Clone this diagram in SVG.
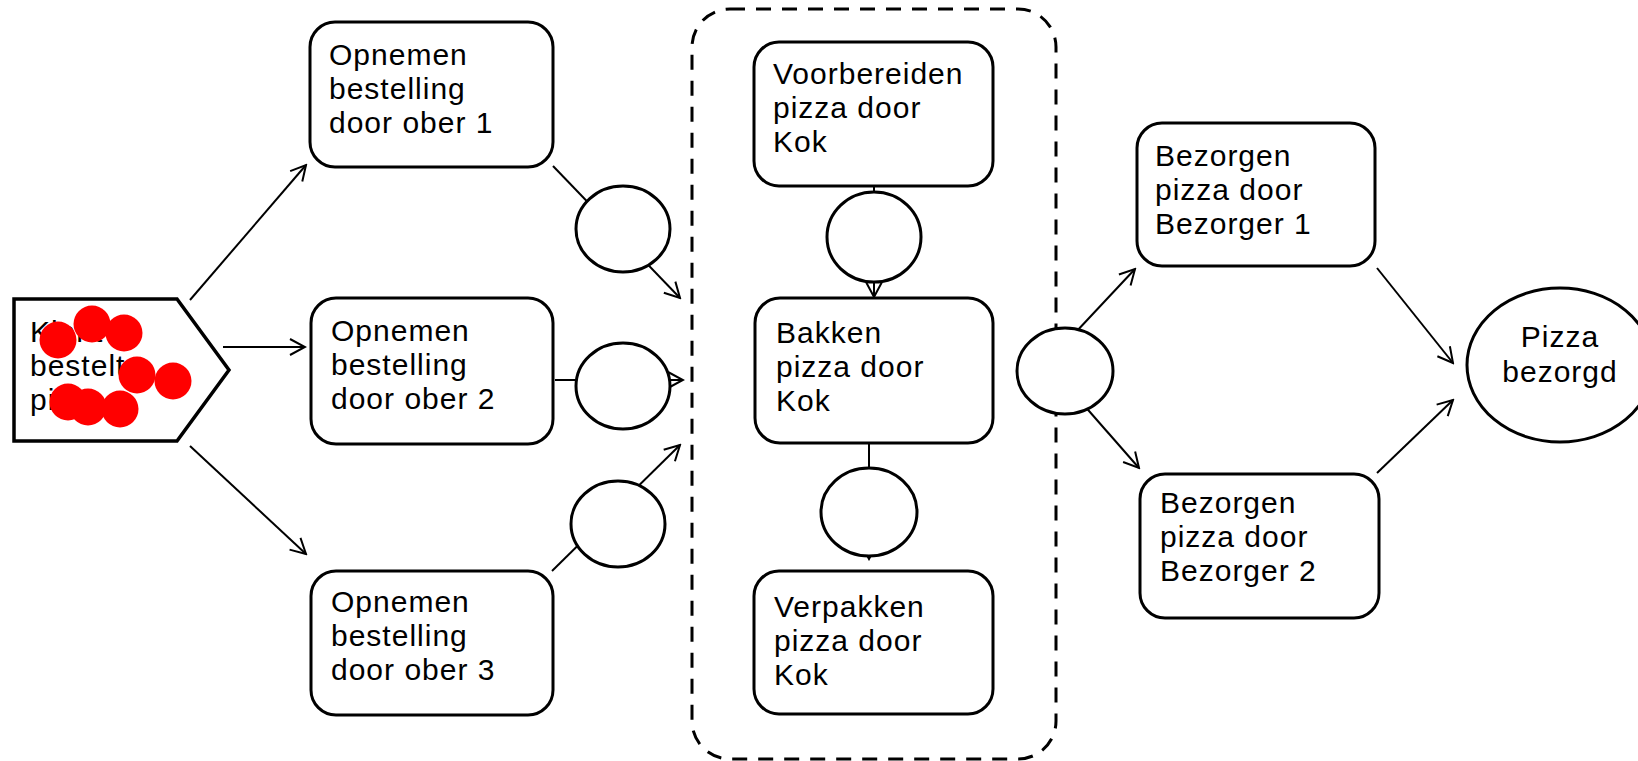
<svg xmlns="http://www.w3.org/2000/svg" width="1638" height="761" viewBox="0 0 1638 761">
<style>
.box{fill:#fff;stroke:#000;stroke-width:3}
.circ{fill:#fff;stroke:#000;stroke-width:3}
.lbl{font-family:"Liberation Sans",Arial,sans-serif;font-size:30px;letter-spacing:1px;fill:#000}
.con{fill:none;stroke:#000;stroke-width:2}
.dot{fill:#ff0000}
</style>
<defs>
<marker id="arr" viewBox="-18 -10 20 20" refX="0" refY="0" markerWidth="20" markerHeight="20" markerUnits="userSpaceOnUse" orient="auto">
<path d="M-15,-8 L0,0 L-15,8" fill="none" stroke="#000" stroke-width="2"/>
</marker>
</defs>
<rect width="1638" height="761" fill="#fff"/>
<g id="group-kok">
<rect x="692" y="9" width="364" height="750" rx="38" ry="38" fill="none" stroke="#000" stroke-width="3" stroke-dasharray="15,11"/>
</g>
<g id="connectors">
<line class="con" x1="190" y1="300" x2="306" y2="165" marker-end="url(#arr)"/>
<line class="con" x1="223" y1="347" x2="305" y2="347" marker-end="url(#arr)"/>
<line class="con" x1="190" y1="446" x2="306" y2="554" marker-end="url(#arr)"/>
<line class="con" x1="553" y1="166" x2="680" y2="298" marker-end="url(#arr)"/>
<line class="con" x1="555" y1="380" x2="683" y2="380" marker-end="url(#arr)"/>
<line class="con" x1="552" y1="571" x2="680" y2="445" marker-end="url(#arr)"/>
<line class="con" x1="874" y1="186" x2="874" y2="297" marker-end="url(#arr)"/>
<line class="con" x1="869" y1="443" x2="869" y2="559" marker-end="url(#arr)"/>
<line class="con" x1="1060" y1="349" x2="1135" y2="269" marker-end="url(#arr)"/>
<line class="con" x1="1075" y1="395" x2="1139" y2="468" marker-end="url(#arr)"/>
<line class="con" x1="1377" y1="268" x2="1453" y2="363" marker-end="url(#arr)"/>
<line class="con" x1="1377" y1="473" x2="1453" y2="400" marker-end="url(#arr)"/>
</g>
<g id="start">
<polygon points="14,299 177,299 229,370 177,441 14,441" fill="#fff" stroke="#000" stroke-width="3.5"/>
<text class="lbl"><tspan x="30" y="342">Klant</tspan><tspan x="30" y="376">bestelt</tspan><tspan x="30" y="410">pizza</tspan></text>
<circle class="dot" cx="58" cy="340" r="18.5"/>
<circle class="dot" cx="92" cy="324" r="18.5"/>
<circle class="dot" cx="124" cy="333" r="18.5"/>
<circle class="dot" cx="137" cy="375" r="18.5"/>
<circle class="dot" cx="173" cy="381" r="18.5"/>
<circle class="dot" cx="68" cy="402" r="18.5"/>
<circle class="dot" cx="88" cy="407" r="18.5"/>
<circle class="dot" cx="120" cy="409" r="18.5"/>
</g>
<g id="ober1">
<rect class="box" x="310" y="22" width="243" height="145" rx="25"/>
<text class="lbl"><tspan x="329" y="65">Opnemen</tspan><tspan x="329" y="99">bestelling</tspan><tspan x="329" y="133">door ober 1</tspan></text>
</g>
<g id="ober2">
<rect class="box" x="311" y="298" width="242" height="146" rx="25"/>
<text class="lbl"><tspan x="331" y="341">Opnemen</tspan><tspan x="331" y="375">bestelling</tspan><tspan x="331" y="409">door ober 2</tspan></text>
</g>
<g id="ober3">
<rect class="box" x="311" y="571" width="242" height="144" rx="25"/>
<text class="lbl"><tspan x="331" y="612">Opnemen</tspan><tspan x="331" y="646">bestelling</tspan><tspan x="331" y="680">door ober 3</tspan></text>
</g>
<g id="voorbereiden">
<rect class="box" x="754" y="42" width="239" height="144" rx="25"/>
<text class="lbl"><tspan x="773" y="84">Voorbereiden</tspan><tspan x="773" y="118">pizza door</tspan><tspan x="773" y="152">Kok</tspan></text>
</g>
<g id="bakken">
<rect class="box" x="755" y="298" width="238" height="145" rx="25"/>
<text class="lbl"><tspan x="776" y="343">Bakken</tspan><tspan x="776" y="377">pizza door</tspan><tspan x="776" y="411">Kok</tspan></text>
</g>
<g id="verpakken">
<rect class="box" x="754" y="571" width="239" height="143" rx="25"/>
<text class="lbl"><tspan x="774" y="617">Verpakken</tspan><tspan x="774" y="651">pizza door</tspan><tspan x="774" y="685">Kok</tspan></text>
</g>
<g id="bezorger1">
<rect class="box" x="1137" y="123" width="238" height="143" rx="25"/>
<text class="lbl"><tspan x="1155" y="166">Bezorgen</tspan><tspan x="1155" y="200">pizza door</tspan><tspan x="1155" y="234">Bezorger 1</tspan></text>
</g>
<g id="bezorger2">
<rect class="box" x="1140" y="474" width="239" height="144" rx="25"/>
<text class="lbl"><tspan x="1160" y="513">Bezorgen</tspan><tspan x="1160" y="547">pizza door</tspan><tspan x="1160" y="581">Bezorger 2</tspan></text>
</g>
<g id="end">
<ellipse class="circ" cx="1560" cy="365" rx="93" ry="77"/>
<text class="lbl" text-anchor="middle"><tspan x="1560" y="347">Pizza</tspan><tspan x="1560" y="382">bezorgd</tspan></text>
</g>
<g id="gate1"><ellipse class="circ" cx="623" cy="229" rx="47" ry="43"/></g>
<g id="gate2"><ellipse class="circ" cx="623" cy="386" rx="47" ry="43"/></g>
<g id="gate3"><ellipse class="circ" cx="618" cy="524" rx="47" ry="43"/></g>
<g id="gate4"><ellipse class="circ" cx="874" cy="237" rx="47" ry="45"/></g>
<g id="gate5"><ellipse class="circ" cx="869" cy="512" rx="48" ry="44"/></g>
<g id="gate6"><ellipse class="circ" cx="1065" cy="371" rx="48" ry="43"/></g>
</svg>
